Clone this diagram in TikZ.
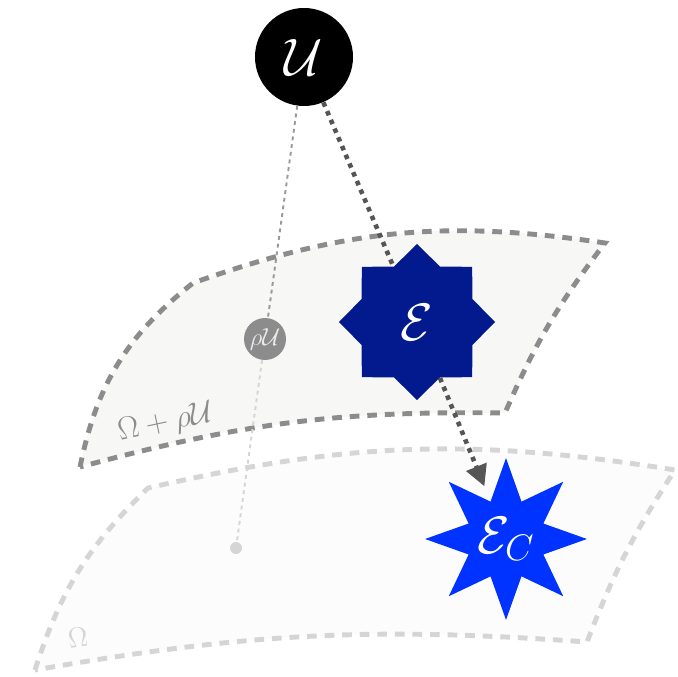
\documentclass[tikz,border=0pt]{standalone}
\usepackage{fix-cm}
\usetikzlibrary{arrows.meta,shapes.geometric}
\definecolor{sheetfill}{HTML}{F7F7F5}
\definecolor{basefill}{HTML}{FCFCFC}
\definecolor{sheetline}{HTML}{8C8C8C}
\definecolor{omegaline}{HTML}{D5D5D5}
\definecolor{edark}{HTML}{021A8E}
\definecolor{ebright}{HTML}{0033FF}
\definecolor{pathgray}{HTML}{555555}

\begin{document}
\begin{tikzpicture}[x=0.2mm,y=0.2mm,
  sheet/.style={line width=2.8pt,dash pattern=on 5.5pt off 4.5pt},
  bigfont/.style={font=\fontsize{30}{36}\selectfont},
  estar/.style={star,star points=8,inner sep=0pt,minimum size=3.12cm,text=white,bigfont},
  thinpath/.style={line width=1.1pt,dash pattern=on 2.2pt off 2.2pt},
  thickpath/.style={pathgray,line width=2.6pt,dash pattern=on 2.6pt off 2.8pt}]
  \useasboundingbox (0,0) rectangle (678,676);
  \filldraw[sheet,draw=omegaline,fill=basefill] (35,6) to[bend left=14] (148,188)
    to[bend left=11] (675,206) to[bend right=6] (587,34) to[bend right=7] cycle;
  \filldraw[sheet,draw=sheetline,fill=sheetfill] (80,209) to[bend left=20] (193,393)
    to[bend left=14] (605,433) to[bend right=7] (505,263) to[bend right=8] cycle;
  \node[rotate=12,text=sheetline,font=\fontsize{18}{20}\selectfont] (sheetlabel) at (166,253) {$\Omega+\rho\mathcal{U}$};
  \node[rotate=8,text=omegaline,font=\fontsize{16}{18}\selectfont] (omegalabel) at (78,38) {$\Omega$};

  \node[circle,fill=black,text=white,inner sep=0pt,minimum size=1.96cm,bigfont] (U) at (304,619) {$\mathcal{U}$};
  \node[estar,fill=edark,star point ratio=1.3] (E) at (417,354) {$\mathcal{E}$};
  \node[estar,fill=ebright,star point ratio=2] (EC) at (506,137) {$\mathcal{E}_C$};
  \node[circle,fill=sheetline,text=black!8,inner sep=0pt,minimum size=0.84cm,font=\fontsize{14}{16}\selectfont] (rhoU) at (265,337) {$\rho\mathcal{U}$};
  \node[circle,fill=omegaline,inner sep=0pt,minimum size=0.24cm] (pt) at (236,128) {};

  \draw[thinpath,draw=black!40] (U) -- (rhoU);
  \draw[thinpath,draw=omegaline] (rhoU) -- (pt);
  \draw[thickpath] (U) -- (E);
  \draw[thickpath,-{Triangle[length=12pt,width=12pt]},shorten >=9pt] (E) -- (EC);
\end{tikzpicture}
\end{document}
